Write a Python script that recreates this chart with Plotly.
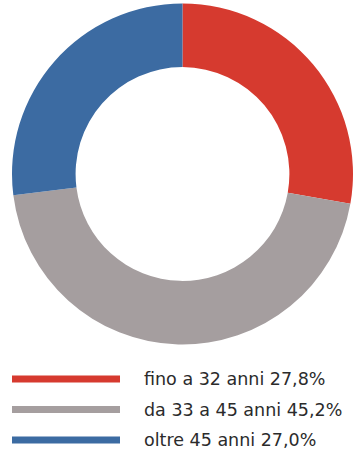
import plotly.graph_objects as go

# Age groups and their shares (%)
labels = ["fino a 32 anni", "da 33 a 45 anni", "oltre 45 anni"]
values = [27.8, 45.2, 27.0]
value_text = ["27,8%", "45,2%", "27,0%"]
colors = ["#d63a2f", "#a59e9f", "#3c6ba2"]

W, H = 353, 450

fig = go.Figure(
    go.Pie(
        labels=labels,
        values=values,
        hole=0.627,
        sort=False,
        direction="clockwise",
        rotation=0,
        marker=dict(colors=colors, line=dict(width=0)),
        textinfo="none",
        hoverinfo="label+percent",
        domain=dict(x=[12 / W, 1.0], y=[(H - 345) / H, (H - 3) / H]),
        showlegend=False,
    )
)

# Custom legend: thick coloured bars with a caption beside each
legend_y = [379, 409.5, 440]
shapes = []
annotations = []
for lab, txt, col, yy in zip(labels, value_text, colors, legend_y):
    yp = (H - yy) / H
    shapes.append(
        dict(type="line", xref="paper", yref="paper",
             x0=12 / W, x1=120 / W, y0=yp, y1=yp,
             line=dict(color=col, width=7))
    )
    annotations.append(
        dict(xref="paper", yref="paper", x=142 / W, y=yp,
             xanchor="left", yanchor="middle", showarrow=False,
             text=f"{lab} {txt}",
             font=dict(family="DejaVu Sans", size=17.5, color="#2b2b2b"))
    )

fig.update_layout(
    width=W,
    height=H,
    margin=dict(l=0, r=0, t=0, b=0),
    paper_bgcolor="white",
    plot_bgcolor="white",
    shapes=shapes,
    annotations=annotations,
)

fig.write_html("out.html")
